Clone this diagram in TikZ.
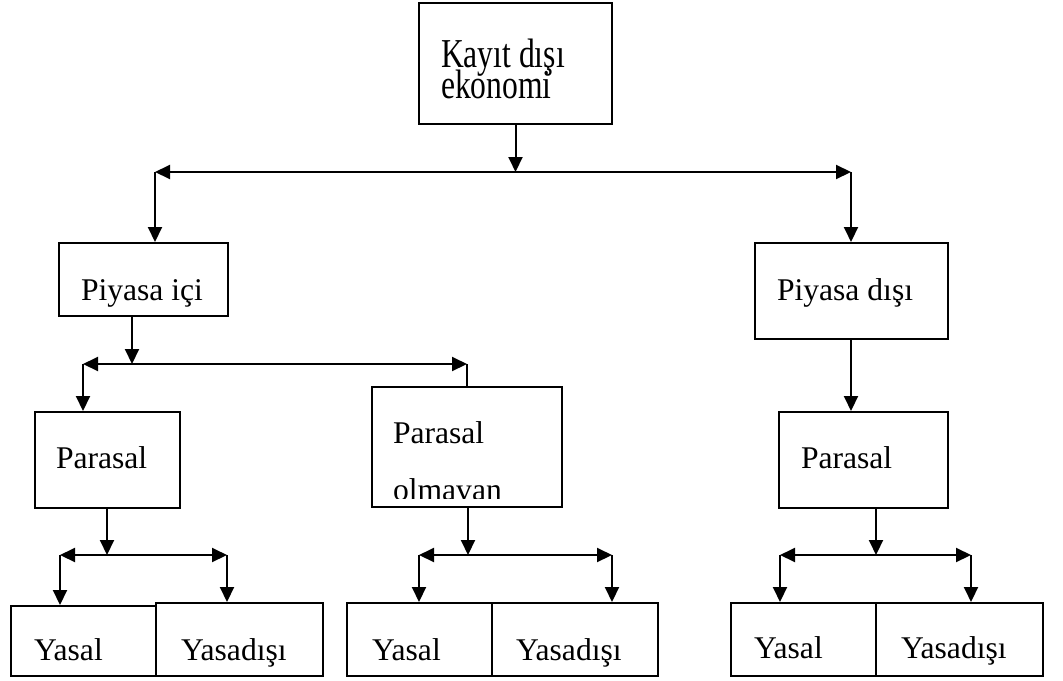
\documentclass[tikz,border=0pt]{standalone}
\usepackage{fontspec}
\setmainfont{Liberation Serif}
\usetikzlibrary{arrows.meta}
\usetikzlibrary{fit}

\begin{document}
\begin{tikzpicture}[x=0.5pt, y=-0.5pt, line width=1pt,
  >={Triangle[length=7.5pt, width=7pt]},
  box/.style={draw, line width=1pt, inner sep=0pt},
  txt/.style={anchor=base west, inner sep=0pt,
              font=\fontsize{15.8}{18}\selectfont}]

\useasboundingbox (0,0) rectangle (1063,680);

% boxes
\node [box, fit={(419,3) (612,124)}]   (kayit)   {};
\node [box, fit={(59,243) (228,316)}]  (piyIci)  {};
\node [box, fit={(755,243) (948,339)}] (piyDisi) {};
\node [box, fit={(35,412) (180,508)}]  (parA)    {};
\node [box, fit={(372,387) (562,507)}] (parB)    {};
\node [box, fit={(779,412) (948,508)}] (parC)    {};

% top text is stretched tall in the original
\node [txt] (kayitT) at (440,98) {\scalebox{1}[1.3]{\vbox{\baselineskip=11.92pt
  \lineskiplimit=-\maxdimen \hbox{Kayıt dışı}\hbox{ekonomi}}}};
\node [txt] (piyIciT) at (80,300)  {Piyasa içi};
\node [txt] (piyDisiT) at (776,300) {Piyasa dışı};
\node [txt] (parAT)   at (55,468)  {Parasal};
\node [txt] (parBT1)  at (392,443) {Parasal};
\begin{scope}
  \clip (372,387) rectangle (562,498);
  \node [txt] (parBT2) at (392,500) {olmavan};
\end{scope}
\node [txt] (parCT)   at (800,468) {Parasal};

% first level
\coordinate (s1L) at (155,172);
\coordinate (s1R) at (851,172);
\draw [->] (kayit.south) -- (kayit.south |- s1L);
\draw [<->] (s1L) -- (s1R);
\draw [->] (s1L) -- (s1L |- piyIci.north);
\draw [->] (s1R) -- (s1R |- piyDisi.north);

% second level
\coordinate (s2M) at (132,364);
\coordinate (s2L) at (83,364);
\coordinate (s2R) at (467,364);
\draw [->] (piyIci.south -| s2M) -- (s2M);
\draw [<->] (s2L) -- (s2R);
\draw [->] (s2L) -- (s2L |- parA.north);
\draw (s2R) -- (s2R |- parB.north);
\draw [->] (piyDisi.south -| s1R) -- (s1R |- parC.north);

% yasal / yasadisi
\foreach \g/\m/\l/\r/\a/\b/\c/\t/\ty/\xa/\xb in {
    A/107/60/227/11/156/323/606/660/33/180,
    B/468/419/612/347/492/658/603/660/371/515,
    C/876/780/971/731/876/1043/603/658/753/900}
{
  \node [box, fit={(\a,\t) (\b,676)}]  (yas\g) {};
  \node [box, fit={(\b,603) (\c,676)}] (yd\g)  {};
  \node [txt] (yas\g T) at (\xa,\ty) {Yasal};
  \node [txt] (yd\g T)  at (\xb,\ty) {Yasadışı};

  \coordinate (s\g M) at (\m,555);
  \coordinate (s\g L) at (\l,555);
  \coordinate (s\g R) at (\r,555);
  \draw [->] (par\g.south -| s\g M) -- (s\g M);
  \draw [<->] (s\g L) -- (s\g R);
  \draw [->] (s\g L) -- (s\g L |- yas\g.north);
  \draw [->] (s\g R) -- (s\g R |- yd\g.north);
}

\end{tikzpicture}
\end{document}
